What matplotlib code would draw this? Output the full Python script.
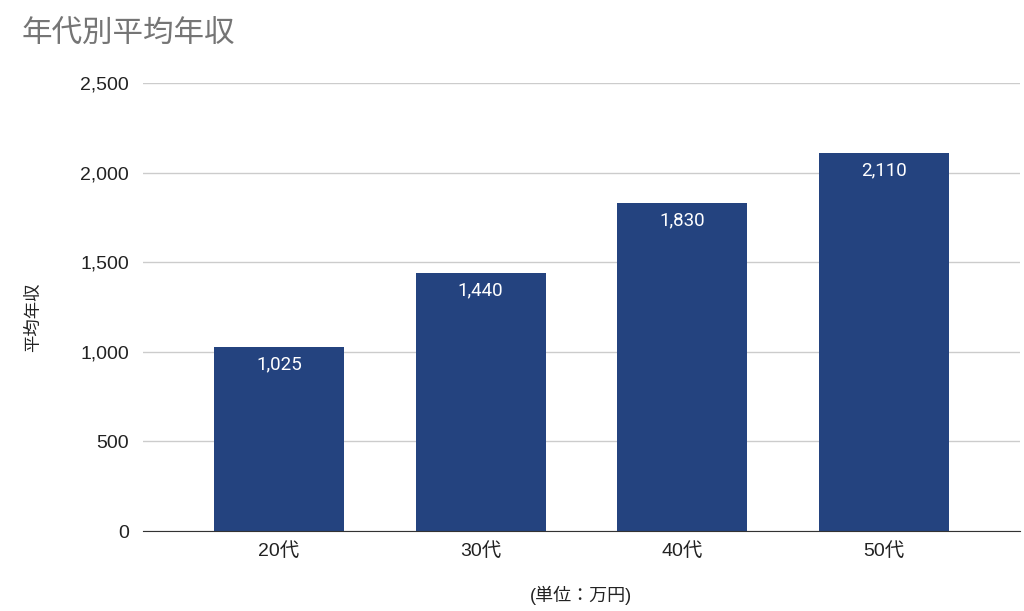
import matplotlib
matplotlib.use("Agg")
import matplotlib.pyplot as plt
from matplotlib.ticker import FuncFormatter

plt.rcParams['font.family'] = ['Liberation Sans', 'Noto Sans CJK JP', 'DejaVu Sans']

# data
ages = ['20代', '30代', '40代', '50代']
income = [1025, 1440, 1830, 2110]
yticks = [0, 500, 1000, 1500, 2000, 2500]

bar_color = '#24437f'

fig = plt.figure(figsize=(10.24, 6.11), dpi=100)
ax = fig.add_axes([0.1396, 0.1309, 0.8564, 0.7333])

x = list(range(len(ages)))
bars = ax.bar(x, income, width=0.645, color=bar_color, zorder=3)

# value labels just inside the top of each bar
for b, v in zip(bars, income):
    ax.text(b.get_x() + b.get_width() / 2, v - 45, f'{v:,}', ha='center', va='top',
            color='white', fontsize=13.5, family=['Roboto', 'DejaVu Sans'])

ax.set_xlim(-0.674, 3.674)
ax.set_ylim(0, 2500)
ax.set_yticks(yticks)
ax.yaxis.set_major_formatter(FuncFormatter(lambda v, p: f'{int(v):,}'))
ax.set_xticks(x)
ax.set_xticklabels(ages)

ax.grid(axis='y', color='#cccccc', linewidth=1, zorder=0)
ax.tick_params(axis='both', length=0, labelsize=14, colors='#222222')
ax.tick_params(axis='y', pad=10)
ax.tick_params(axis='x', pad=8)
for s in ['top', 'right', 'left']:
    ax.spines[s].set_visible(False)
ax.spines['bottom'].set_color('#333333')
ax.spines['bottom'].set_zorder(4)

ax.set_ylabel('平均年収', fontsize=12.5, color='#222222', va='center')
ax.yaxis.set_label_coords(-0.125, 0.478)
ax.set_xlabel('(単位：万円)', fontsize=13, color='#222222', va='center')
ax.xaxis.set_label_coords(0.5, -0.143)

fig.text(22 / 1024, 1 - 35 / 611, '年代別平均年収', fontsize=22, color='#757575',
         ha='left', va='center')

fig.savefig('out.png', dpi=100)
